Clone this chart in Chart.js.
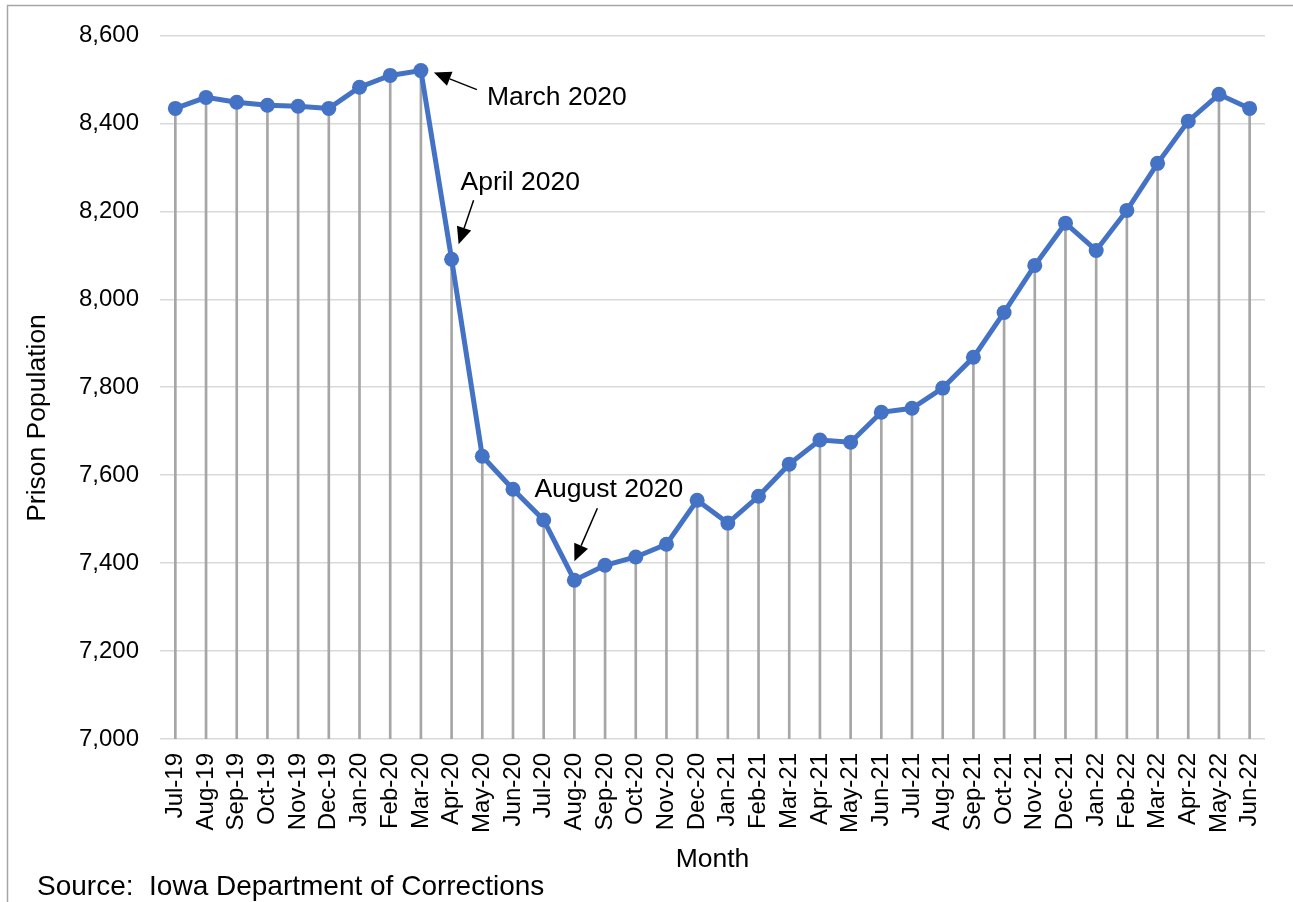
<!DOCTYPE html>
<html>
<head>
<meta charset="utf-8">
<script src="https://cdn.jsdelivr.net/npm/chart.js@4/dist/chart.umd.min.js"></script>
<style>
  body { margin: 0; background: #fff; }
  #wrap { width: 1293px; height: 902px; position: relative; }
</style>
</head>
<body>
<div id="wrap"><canvas id="prisonChart"></canvas></div>
<script>
// Iowa prison population by month, Jul 2019 - Jun 2022

const months = [
  'Jul-19', 'Aug-19', 'Sep-19', 'Oct-19', 'Nov-19', 'Dec-19',
  'Jan-20', 'Feb-20', 'Mar-20', 'Apr-20', 'May-20', 'Jun-20',
  'Jul-20', 'Aug-20', 'Sep-20', 'Oct-20', 'Nov-20', 'Dec-20',
  'Jan-21', 'Feb-21', 'Mar-21', 'Apr-21', 'May-21', 'Jun-21',
  'Jul-21', 'Aug-21', 'Sep-21', 'Oct-21', 'Nov-21', 'Dec-21',
  'Jan-22', 'Feb-22', 'Mar-22', 'Apr-22', 'May-22', 'Jun-22'
];

const population = [
  8434, 8459, 8448, 8441, 8439, 8434,
  8482, 8509, 8520, 8091, 7643, 7568,
  7498, 7361, 7395, 7414, 7443, 7543,
  7491, 7552, 7625, 7680, 7675, 7743,
  7752, 7798, 7868, 7970, 8077, 8173,
  8111, 8202, 8309, 8405, 8466, 8434
];

const yMin = 7000;
const yMax = 8600;
const yStep = 200;

// callouts: which month, the text, and where the arrow sits relative to the point
const callouts = [
  { month: 'Mar-20', text: 'March 2020', tx: 66, ty: 34, ax: 56, ay: 19, bx: 13, by: 2 },
  { month: 'Apr-20', text: 'April 2020', tx: 9, ty: -69, ax: 22, ay: -59, bx: 7, by: -15 },
  { month: 'Aug-20', text: 'August 2020', tx: -40, ty: -83, ax: 23, ay: -72, bx: 0, by: -19 }
];

const FONT = '"Liberation Sans", Arial, sans-serif';

const framePlugin = {
  id: 'frame',
  beforeDraw(chart) {
    const ctx = chart.ctx;
    ctx.save();
    ctx.strokeStyle = '#a6a6a6';
    ctx.lineWidth = 1.5;
    ctx.beginPath();
    ctx.moveTo(7.5, chart.height);
    ctx.lineTo(7.5, 5.5);
    ctx.lineTo(chart.width, 5.5);
    ctx.stroke();
    ctx.restore();
  },
  afterDraw(chart) {
    const ctx = chart.ctx;
    ctx.save();
    ctx.fillStyle = '#000';
    ctx.font = '28px ' + FONT;
    ctx.textBaseline = 'alphabetic';
    ctx.fillText('Source:  Iowa Department of Corrections', 37, 895);
    // y axis title, Excel puts it a little below the middle
    ctx.translate(38, 418);
    ctx.rotate(-Math.PI / 2);
    ctx.textAlign = 'center';
    ctx.textBaseline = 'middle';
    ctx.font = '26.5px ' + FONT;
    ctx.fillText('Prison Population', 0, 0);
    ctx.restore();
  }
};

function drawArrow(ctx, x1, y1, x2, y2) {
  const ang = Math.atan2(y2 - y1, x2 - x1);
  const headLen = 17, headW = 7.5;
  const bx = x2 - headLen * Math.cos(ang);
  const by = y2 - headLen * Math.sin(ang);
  ctx.beginPath();
  ctx.moveTo(x1, y1);
  ctx.lineTo(bx, by);
  ctx.stroke();
  ctx.beginPath();
  ctx.moveTo(x2, y2);
  ctx.lineTo(bx + headW * Math.sin(ang), by - headW * Math.cos(ang));
  ctx.lineTo(bx - headW * Math.sin(ang), by + headW * Math.cos(ang));
  ctx.closePath();
  ctx.fill();
}

const calloutPlugin = {
  id: 'callouts',
  afterDatasetsDraw(chart) {
    const ctx = chart.ctx;
    const xs = chart.scales.x, ys = chart.scales.y;
    ctx.save();
    ctx.fillStyle = '#000';
    ctx.strokeStyle = '#000';
    ctx.lineWidth = 1.5;
    ctx.font = '26.5px ' + FONT;
    ctx.textBaseline = 'alphabetic';
    callouts.forEach(c => {
      const i = months.indexOf(c.month);
      const px = xs.getPixelForValue(i);
      const py = ys.getPixelForValue(population[i]);
      drawArrow(ctx, px + c.ax, py + c.ay, px + c.bx, py + c.by);
      ctx.fillText(c.text, px + c.tx, py + c.ty);
    });
    ctx.restore();
  }
};

const ctx = document.getElementById('prisonChart').getContext('2d');
new Chart(ctx, {
  data: {
    labels: months,
    datasets: [
      {
        type: 'line',
        data: population,
        borderColor: '#4472C4',
        borderWidth: 5,
        pointRadius: 7.5,
        pointBackgroundColor: '#4472C4',
        pointBorderWidth: 0,
        tension: 0,
        order: 1
      },
      {
        // drop lines from each point down to the axis
        type: 'bar',
        data: population,
        backgroundColor: '#a6a6a6',
        barThickness: 2,
        order: 2
      }
    ]
  },
  options: {
    responsive: true,
    maintainAspectRatio: false,
    animation: false,
    layout: { padding: { top: 35, right: 28, bottom: 22, left: 21 } },
    plugins: {
      legend: { display: false },
      tooltip: { enabled: false }
    },
    scales: {
      x: {
        grid: { display: false, drawTicks: false },
        border: { display: false },
        ticks: {
          color: '#000',
          font: { family: FONT, size: 24 },
          maxRotation: 90,
          minRotation: 90,
          autoSkip: false,
          padding: 14
        },
        title: {
          display: true,
          text: 'Month',
          color: '#000',
          font: { family: FONT, size: 26.5 }
        },
        afterFit(scale) { scale.height = 141; }
      },
      y: {
        min: yMin,
        max: yMax,
        grid: { color: '#d9d9d9', lineWidth: 1.5, drawTicks: false },
        border: { display: false },
        ticks: {
          stepSize: yStep,
          color: '#000',
          font: { family: FONT, size: 24 },
          padding: 21,
          callback: v => v.toLocaleString('en-US')
        },
        afterFit(scale) { scale.width = 139; }
      }
    }
  },
  plugins: [framePlugin, calloutPlugin]
});
</script>
</body>
</html>
